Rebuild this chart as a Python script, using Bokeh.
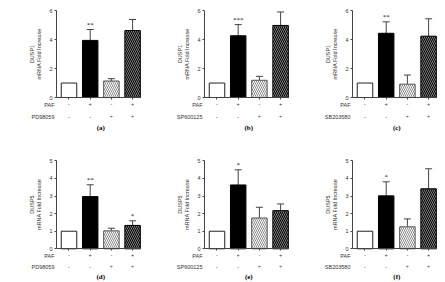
from bokeh.plotting import figure
from bokeh.layouts import gridplot
from bokeh.models import (ColumnDataSource, Range1d, FixedTicker, Whisker, TeeHead,
                          LinearAxis, Label, LabelSet)
from bokeh.embed import file_html
from bokeh.resources import INLINE

# Treatment groups (1: control, 2: PAF, 3: inhibitor, 4: PAF + inhibitor)
groups = [1, 2, 3, 4]
paf_signs = ["-", "+", "-", "+"]
inhibitor_signs = ["-", "-", "+", "+"]

# DUSP1 mRNA fold increase (mean, SEM)
dusp1_pd_mean = [1.0, 3.94, 1.14, 4.62]
dusp1_pd_sem = [0.0, 0.75, 0.16, 0.76]
dusp1_sp_mean = [1.0, 4.26, 1.19, 4.97]
dusp1_sp_sem = [0.0, 0.77, 0.27, 0.93]
dusp1_sb_mean = [1.0, 4.43, 0.92, 4.23]
dusp1_sb_sem = [0.0, 0.79, 0.63, 1.20]

# DUSP5 mRNA fold increase (mean, SEM)
dusp5_pd_mean = [1.0, 2.97, 1.02, 1.33]
dusp5_pd_sem = [0.0, 0.67, 0.15, 0.26]
dusp5_sp_mean = [1.0, 3.63, 1.75, 2.17]
dusp5_sp_sem = [0.0, 0.86, 0.61, 0.38]
dusp5_sb_mean = [1.0, 3.01, 1.25, 3.41]
dusp5_sb_sem = [0.0, 0.80, 0.45, 1.14]

# Significance marks
stars_a = ["", "**", "", ""]
stars_b = ["", "***", "", ""]
stars_c = ["", "**", "", ""]
stars_d = ["", "**", "", "*"]
stars_e = ["", "*", "", ""]
stars_f = ["", "*", "", ""]

dusp1_ticks = [0, 2, 4, 6]
dusp5_ticks = [0, 1, 2, 3, 4, 5]

FONT = "Liberation Sans"
TEXT = "#333333"
AXIS = "#444444"

X0 = 0.41      # where the value axis sits
X1 = 4.37      # right end of the baseline


def panel(gene, inhibitor, tag, means, sems, stars, ticks, width, top_row):
    ymax = ticks[-1]
    if top_row:
        yr = Range1d(-3.03, 6.69)
        rows = (-7, -19, -30)
    else:
        yr = Range1d(-1.915, 6.10)
        rows = (-7, -18.5, -28)
    p = figure(width=width, height=141, output_backend="svg", toolbar_location=None,
               x_range=Range1d(-2.231, -2.231 + width / 21.2), y_range=yr,
               x_axis_location=None, y_axis_location=None, min_border=0)
    p.outline_line_color = None
    p.grid.visible = False

    ya = LinearAxis(fixed_location=X0, bounds=(0, ymax), ticker=FixedTicker(ticks=ticks))
    ya.axis_line_color = AXIS
    ya.major_tick_line_color = AXIS
    ya.major_tick_out = 2
    ya.major_tick_in = 0
    ya.minor_tick_line_color = None
    ya.major_label_text_font = FONT
    ya.major_label_text_font_size = "5.5px"
    ya.major_label_text_color = TEXT
    ya.major_label_standoff = 2
    ya.axis_label = gene + "\nmRNA Fold Increase"
    ya.axis_label_text_font = FONT
    ya.axis_label_text_font_size = "5.5px"
    ya.axis_label_text_font_style = "normal"
    ya.axis_label_text_color = TEXT
    ya.axis_label_standoff = 4
    p.add_layout(ya, "left")

    # baseline with a small tick under each bar; its labels give the PAF row
    xa = LinearAxis(fixed_location=0, bounds=(X0, X1), ticker=FixedTicker(ticks=groups))
    xa.axis_line_color = AXIS
    xa.major_tick_line_color = AXIS
    xa.major_tick_out = 2
    xa.major_tick_in = 0
    xa.minor_tick_line_color = None
    xa.major_label_overrides = {g: s for g, s in zip(groups, paf_signs)}
    xa.major_label_text_font = FONT
    xa.major_label_text_font_size = "5.5px"
    xa.major_label_text_color = TEXT
    xa.major_label_standoff = 2
    p.add_layout(xa, "below")

    src = ColumnDataSource(dict(
        x=groups, top=means,
        upper=[m + s for m, s in zip(means, sems)],
        stars=stars,
        fill=["white", "black", "white", "black"],
        line=["#222222", "black", "#555555", "black"],
        hatch=[" ", " ", "left_diagonal_line", "left_diagonal_line"],
        hatch_color=["white", "white", "#8a8a8a", "#808080"],
        inh=inhibitor_signs,
    ))
    err_src = ColumnDataSource(dict(
        x=[g for g, s in zip(groups, sems) if s > 0],
        lower=[m for m, s in zip(means, sems) if s > 0],
        upper=[m + s for m, s in zip(means, sems) if s > 0],
    ))

    # error bars (upper only), drawn under the bars
    p.add_layout(Whisker(source=err_src, base="x", lower="lower", upper="upper",
                         line_color=AXIS, line_width=1,
                         upper_head=TeeHead(size=7, line_color=AXIS, line_width=1),
                         lower_head=None, level="underlay"))

    p.vbar(x="x", top="top", bottom=0, width=0.73, source=src,
           fill_color="fill", line_color="line", line_width=1,
           hatch_pattern="hatch", hatch_color="hatch_color",
           hatch_scale=4, hatch_weight=1)

    p.add_layout(LabelSet(x="x", y="upper", text="stars", source=src,
                          text_align="center", text_baseline="bottom", y_offset=1,
                          text_font=FONT, text_font_size="7px", text_color="#222222"))

    # inhibitor row and row names of the treatment table
    r1, r2, r3 = rows
    p.add_layout(LabelSet(x="x", y=0, y_offset=r2, text="inh", source=src,
                          text_align="center", text_baseline="middle",
                          text_font=FONT, text_font_size="5.5px", text_color=TEXT))
    for name, off in (("PAF", r1), (inhibitor, r2)):
        p.add_layout(Label(x=X0, y=0, x_offset=-2, y_offset=off, text=name,
                           text_align="right", text_baseline="middle",
                           text_font=FONT, text_font_size="5.5px", text_color=TEXT))
    p.add_layout(Label(x=2.5, y=0, y_offset=r3, text=tag,
                       text_align="center", text_baseline="middle",
                       text_font="Liberation Serif", text_font_style="bold",
                       text_font_size="7px", text_color="black"))
    return p


pa = panel("DUSP1", "PD98059", "(a)", dusp1_pd_mean, dusp1_pd_sem, stars_a, dusp1_ticks, 148, True)
pb = panel("DUSP1", "SP600125", "(b)", dusp1_sp_mean, dusp1_sp_sem, stars_b, dusp1_ticks, 148, True)
pc = panel("DUSP1", "SB203580", "(c)", dusp1_sb_mean, dusp1_sb_sem, stars_c, dusp1_ticks, 149, True)
pd_ = panel("DUSP5", "PD98059", "(d)", dusp5_pd_mean, dusp5_pd_sem, stars_d, dusp5_ticks, 148, False)
pe = panel("DUSP5", "SP600125", "(e)", dusp5_sp_mean, dusp5_sp_sem, stars_e, dusp5_ticks, 148, False)
pf = panel("DUSP5", "SB203580", "(f)", dusp5_sb_mean, dusp5_sb_sem, stars_f, dusp5_ticks, 149, False)

grid = gridplot([[pa, pb, pc], [pd_, pe, pf]], toolbar_location=None)

open("out.html", "w").write(file_html(grid, INLINE))
